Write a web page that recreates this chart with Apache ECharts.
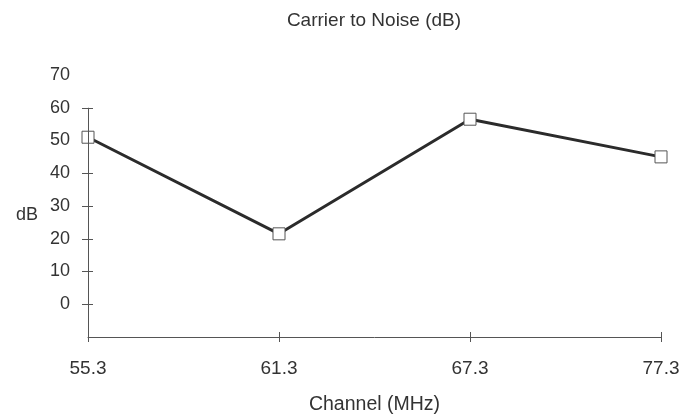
<!DOCTYPE html>
<html>
<head>
    <meta charset="utf-8">
    <title>Carrier to Noise</title>
    <script src="https://cdn.jsdelivr.net/npm/echarts@6/dist/echarts.min.js"></script>
    <style>
        html, body { margin: 0; padding: 0; background: #fff; }
        #chart { width: 684px; height: 420px; }
    </style>
</head>
<body>
    <div id="chart"></div>
    <script>
        // data
        var channels = ['55.3', '61.3', '67.3', '77.3'];
        var cnValues = [51, 21.5, 56.5, 45];
        var yLabelValues = [0, 10, 20, 30, 40, 50, 60, 70];
        var yTickValues = [0, 10, 20, 30, 40, 50, 60];

        var font = 'Liberation Sans, Arial, sans-serif';
        var ink = '#333';
        var axisColor = '#555';

        var chart = echarts.init(document.getElementById('chart'));

        var option = {
            animation: false,
            title: {
                text: 'Carrier to Noise (dB)',
                left: 369,
                textAlign: 'center',
                top: 6,
                textStyle: { fontFamily: font, fontSize: 19, fontWeight: 'normal', color: ink }
            },
            grid: { left: 88, right: 23, top: 75, bottom: 83 },
            xAxis: [{
                type: 'category',
                data: channels,
                boundaryGap: false,
                name: 'Channel (MHz)',
                nameLocation: 'middle',
                nameGap: 58,
                nameTextStyle: { fontFamily: font, fontSize: 19.5, color: ink },
                axisLine: { onZero: false, lineStyle: { color: axisColor, width: 1 } },
                axisTick: { inside: true, length: 5, lineStyle: { color: axisColor } },
                axisLabel: { margin: 22, fontFamily: font, fontSize: 19, color: ink },
                splitLine: { show: false }
            }, {
                // second copy only to draw the outer half of each tick
                type: 'category',
                data: channels,
                boundaryGap: false,
                position: 'bottom',
                axisLine: { show: false, onZero: false },
                axisTick: { inside: false, length: 5, lineStyle: { color: axisColor } },
                axisLabel: { show: false },
                splitLine: { show: false }
            }],
            yAxis: [{
                type: 'value',
                min: -10,
                max: 70,
                interval: 10,
                name: 'dB',
                nameLocation: 'middle',
                nameRotate: 0,
                nameGap: 50,
                nameTextStyle: { fontFamily: font, fontSize: 18, color: ink, align: 'right', verticalAlign: 'top' },
                axisLine: { show: false },
                axisTick: { show: true, length: 6, customValues: yTickValues, lineStyle: { color: axisColor } },
                axisLabel: { margin: 18, fontFamily: font, fontSize: 18, color: ink, customValues: yLabelValues },
                splitLine: { show: false }
            }, {
                type: 'value',
                position: 'left',
                min: -10,
                max: 70,
                interval: 10,
                axisLine: { show: false },
                axisTick: { show: true, inside: true, length: 5, customValues: yTickValues, lineStyle: { color: axisColor } },
                axisLabel: { show: false },
                splitLine: { show: false }
            }],
            series: [{
                type: 'line',
                data: cnValues,
                xAxisIndex: 0,
                yAxisIndex: 0,
                symbol: 'rect',
                symbolSize: 12,
                lineStyle: { color: '#2b2b2b', width: 3 },
                itemStyle: { color: '#fff', borderColor: axisColor, borderWidth: 1 },
                markLine: {
                    silent: true,
                    symbol: 'none',
                    label: { show: false },
                    lineStyle: { color: axisColor, width: 1, type: 'solid' },
                    data: [[{ coord: [channels[0], -10] }, { coord: [channels[0], 60] }]]
                },
                z: 3
            }]
        };

        chart.setOption(option);
    </script>
</body>
</html>
